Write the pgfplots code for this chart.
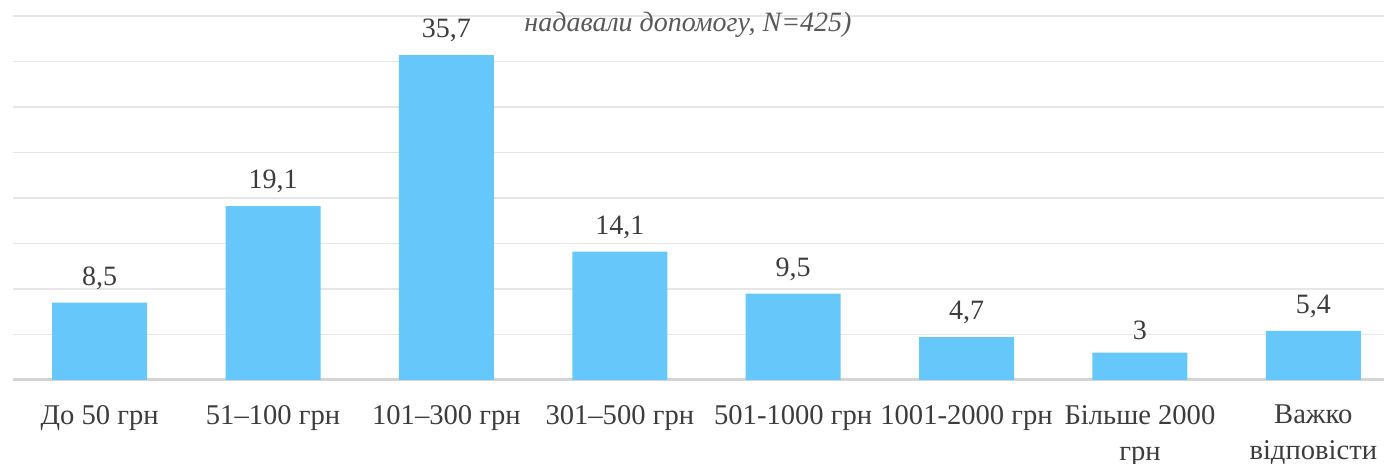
\documentclass[border=0pt]{standalone}
\usepackage{pgfplots}
\pgfplotsset{compat=1.18}
\usepackage{fontspec}
\setmainfont{Liberation Serif}
\definecolor{barblue}{RGB}{102,199,250}
\definecolor{gridc}{RGB}{230,230,230}
\definecolor{axc}{RGB}{212,212,212}
\definecolor{txt}{RGB}{60,60,60}
\definecolor{titlec}{RGB}{89,89,89}
\begin{document}
\begin{tikzpicture}[x=1pt,y=1pt]
\begin{axis}[
  at={(6.5pt,42pt)}, anchor=south west,
  scale only axis, width=693.5pt, height=182pt,
  xmin=-0.5, xmax=7.5, ymin=0, ymax=40,
  axis lines=left, axis line style={-},
  y axis line style={draw=none},
  x axis line style={draw=axc, line width=1.5pt},
  ytick={5,10,...,40}, yticklabels={},
  major tick length=0pt,
  ymajorgrids, grid style={draw=gridc, line width=0.75pt},
  xtick=data,
  xticklabels={{До 50 грн},{51–100 грн},{101–300 грн},{301–500 грн},{501-1000 грн},{1001-2000 грн},{Більше 2000\\грн},{Важко\\відповісти}},
  xticklabel style={align=center, font=\fontsize{14.3}{18}\selectfont, text=txt, anchor=north, yshift=-9pt},
  ybar, bar width=47.5pt,
  nodes near coords,
  every node near coord/.append style={font=\fontsize{14}{17}\selectfont, text=txt, anchor=south, yshift=3pt},
  /pgf/number format/.cd, use comma, fixed, precision=1, assume math mode=true,
]
\addplot[fill=barblue, draw=none] coordinates {(0,8.5) (1,19.1) (2,35.7) (3,14.1) (4,9.5) (5,4.7) (6,3) (7,5.4)};
\end{axis}
\node[font=\itshape\fontsize{14}{17}\selectfont, text=titlec] at (344,219.5) {надавали допомогу, N=425)};
\pgfresetboundingbox
\path[use as bounding box] (0,0) rectangle (692,232);
\end{tikzpicture}
\end{document}
